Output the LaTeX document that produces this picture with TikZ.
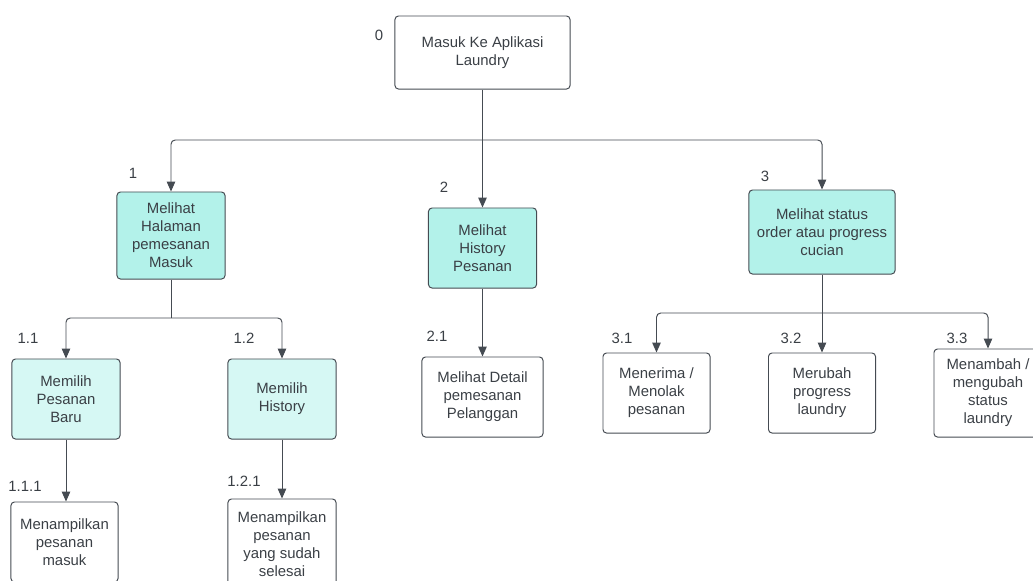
\documentclass[tikz,border=0pt]{standalone}
\usepackage{fontspec}
\setmainfont{Liberation Sans}
\usetikzlibrary{arrows.meta}
\definecolor{tealfill}{HTML}{B3F2EA}
\definecolor{lightfill}{HTML}{D6F8F4}
\definecolor{edge}{HTML}{454B52}
\definecolor{ink}{HTML}{3A3F45}
\tikzset{
	box/.style={draw=edge, line width=0.7pt, rounded corners=2.5pt, align=center, text=ink, inner sep=0pt,
		font=\fontsize{10.6}{12.8}\selectfont},
	lvlone/.style={box, fill=tealfill},
	lvltwo/.style={box, fill=lightfill},
	num/.style={text=ink, inner sep=0pt, font=\fontsize{10.6}{12.8}\selectfont},
	link/.style={draw=edge, line width=0.7pt, rounded corners=3pt, -{Triangle[length=7pt,width=6pt]}},
	bus/.style={draw=edge, line width=0.7pt, rounded corners=3pt}
}
\begin{document}
\begin{tikzpicture}[x=0.025cm, y=-0.025cm]
			%%%%% START %%%%%
			\useasboundingbox (0, 0) rectangle (1033, 580);
			
			\node[box, minimum width=4.375cm, minimum height=1.825cm] (n0) at (482.5, 52.5) {Masuk Ke Aplikasi\\Laundry};
			\node[num] (l0) at (379, 35) {0};
			
			\node[lvlone, minimum width=2.7cm, minimum height=2.175cm] (n1) at (171, 235.5) {Melihat\\Halaman\\pemesanan\\Masuk};
			\node[num] (l1) at (133, 173) {1};
			\node[lvlone, minimum width=2.7cm, minimum height=2cm] (n2) at (482.5, 248) {Melihat\\History\\Pesanan};
			\node[num] (l2) at (444, 187) {2};
			\node[lvlone, minimum width=3.65cm, minimum height=2.1cm] (n3) at (822, 232) {Melihat status\\order atau progress\\cucian};
			\node[num] (l3) at (765, 176) {3};
			
			\node[lvltwo, minimum width=2.7cm, minimum height=2cm] (n11) at (66, 399) {Memilih\\Pesanan\\Baru};
			\node[num] (l11) at (28, 338) {1.1};
			\node[lvltwo, minimum width=2.7cm, minimum height=2cm] (n12) at (282, 399) {Memilih\\History};
			\node[num] (l12) at (244, 338) {1.2};
			
			\node[box, minimum width=2.675cm, minimum height=2cm] (n111) at (64.5, 542) {Menampilkan\\pesanan\\masuk};
			\node[num] (l111) at (25, 486) {1.1.1};
			\node[box, minimum width=2.7cm, minimum height=2.25cm] (n121) at (282, 544) {Menampilkan\\pesanan\\yang sudah\\selesai};
			\node[num] (l121) at (244, 481) {1.2.1};
			
			\node[box, minimum width=3.025cm, minimum height=2cm] (n21) at (482.5, 397) {Melihat Detail\\pemesanan\\Pelanggan};
			\node[num] (l21) at (437, 336) {2.1};
			
			\node[box, minimum width=2.675cm, minimum height=2cm] (n31) at (656.5, 393) {Menerima /\\Menolak\\pesanan};
			\node[num] (l31) at (622, 338) {3.1};
			\node[box, minimum width=2.675cm, minimum height=2cm] (n32) at (822, 393) {Merubah\\progress\\laundry};
			\node[num] (l32) at (791, 338) {3.2};
			\node[box, minimum width=2.7cm, minimum height=2.2cm] (n33) at (988, 393) {Menambah /\\mengubah\\status\\laundry};
			\node[num] (l33) at (957, 338) {3.3};
			
			\coordinate (b0) at (482.5, 140);
			\coordinate (b1) at (171, 318);
			\coordinate (b3) at (822, 313);
			
			\draw[bus] (n0.south) -- (b0);
			\draw[link] (b0) -| (n1.north);
			\draw[link] (b0) -- (n2.north);
			\draw[link] (b0) -| (n3.north);
			
			\draw[bus] (n1.south) -- (b1);
			\draw[link] (b1) -| (n11.north);
			\draw[link] (b1) -| (n12.north);
			
			\draw[link] (n11.south) -- (n11.south |- n111.north);
			\draw[link] (n12.south) -- (n121.north);
			\draw[link] (n2.south) -- (n21.north);
			
			\draw[bus] (n3.south) -- (b3);
			\draw[link] (b3) -| (n31.north);
			\draw[link] (b3) -- (n32.north);
			\draw[link] (b3) -| (n33.north);
			%%%%% END %%%%%
\end{tikzpicture}
\end{document}
